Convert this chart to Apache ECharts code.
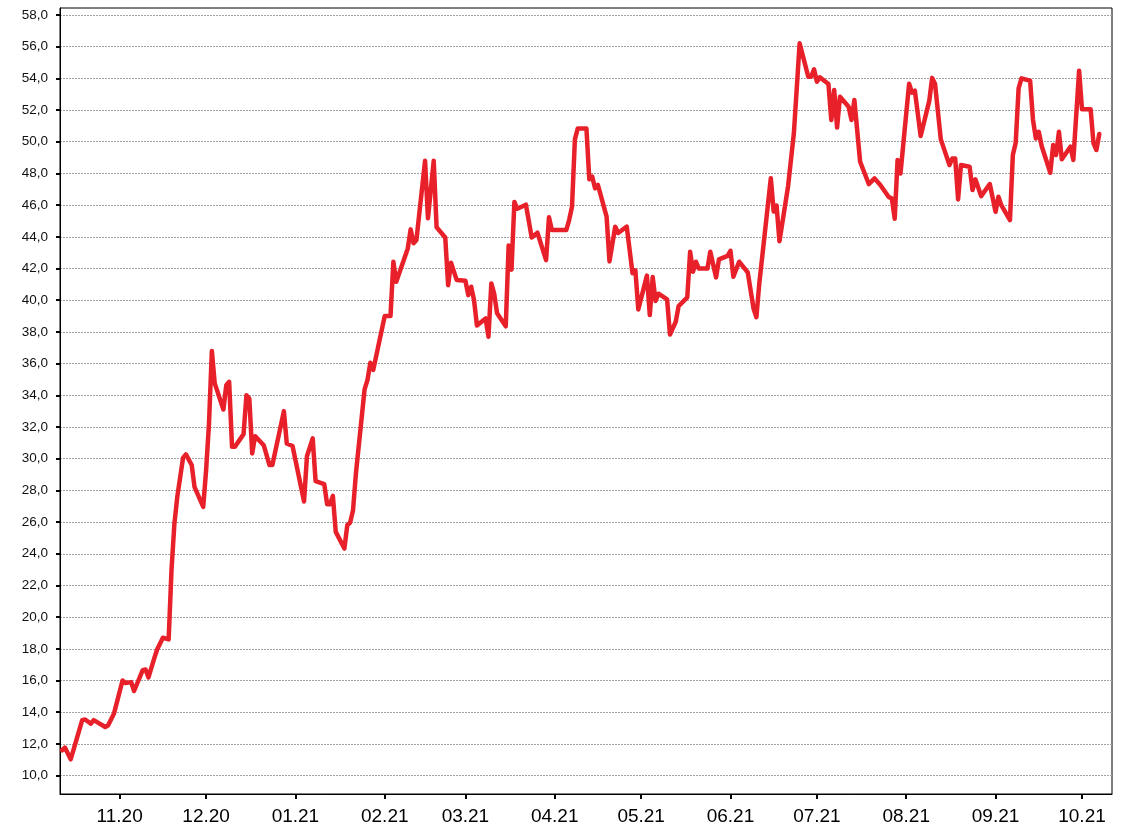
<!DOCTYPE html>
<html>
<head>
<meta charset="utf-8">
<script src="https://cdn.jsdelivr.net/npm/echarts@6/dist/echarts.min.js"></script>
<style>
html,body{margin:0;padding:0;background:#fff;}
#chart{width:1128px;height:836px;}
</style>
</head>
<body>
<div id="chart"></div>
<script>
var dates = [
'2020-10-12','2020-10-13','2020-10-15','2020-10-19','2020-10-20','2020-10-22','2020-10-23','2020-10-27','2020-10-28','2020-10-30',
'2020-11-02','2020-11-03','2020-11-05','2020-11-06','2020-11-09','2020-11-10','2020-11-11','2020-11-13','2020-11-14','2020-11-16',
'2020-11-18','2020-11-19','2020-11-20','2020-11-21','2020-11-23','2020-11-24','2020-11-26','2020-11-27','2020-11-30',
'2020-12-01','2020-12-02','2020-12-03','2020-12-04','2020-12-07','2020-12-08','2020-12-09','2020-12-10','2020-12-11','2020-12-14',
'2020-12-15','2020-12-16','2020-12-17','2020-12-18','2020-12-21','2020-12-23','2020-12-24','2020-12-28','2020-12-29','2020-12-31',
'2021-01-04','2021-01-05','2021-01-07','2021-01-08','2021-01-11','2021-01-12','2021-01-13','2021-01-14','2021-01-15','2021-01-18',
'2021-01-19','2021-01-20','2021-01-21','2021-01-22','2021-01-25','2021-01-26','2021-01-27','2021-01-28',
'2021-02-01','2021-02-03','2021-02-04','2021-02-05','2021-02-09','2021-02-10','2021-02-11','2021-02-12','2021-02-15','2021-02-16',
'2021-02-18','2021-02-19','2021-02-22','2021-02-23','2021-02-24','2021-02-26',
'2021-03-01','2021-03-02','2021-03-03','2021-03-04','2021-03-05','2021-03-08','2021-03-09','2021-03-10','2021-03-11','2021-03-12',
'2021-03-15','2021-03-16','2021-03-17','2021-03-18','2021-03-19','2021-03-22','2021-03-24','2021-03-26','2021-03-29','2021-03-30','2021-03-31',
'2021-04-05','2021-04-06','2021-04-07','2021-04-08','2021-04-09','2021-04-12','2021-04-13','2021-04-14','2021-04-15','2021-04-16',
'2021-04-19','2021-04-20','2021-04-22','2021-04-23','2021-04-26','2021-04-28','2021-04-29','2021-04-30',
'2021-05-03','2021-05-04','2021-05-05','2021-05-06','2021-05-07','2021-05-10','2021-05-11','2021-05-13','2021-05-14','2021-05-17',
'2021-05-18','2021-05-19','2021-05-20','2021-05-21','2021-05-24','2021-05-25','2021-05-27','2021-05-28','2021-05-31',
'2021-06-01','2021-06-02','2021-06-04','2021-06-07','2021-06-09','2021-06-10','2021-06-11','2021-06-15','2021-06-16','2021-06-17',
'2021-06-18','2021-06-21','2021-06-23','2021-06-25','2021-06-28','2021-06-29','2021-06-30',
'2021-07-01','2021-07-02','2021-07-05','2021-07-06','2021-07-07','2021-07-08','2021-07-09','2021-07-12','2021-07-13','2021-07-14',
'2021-07-16','2021-07-19','2021-07-21','2021-07-23','2021-07-26','2021-07-27','2021-07-28','2021-07-29','2021-07-30',
'2021-08-02','2021-08-03','2021-08-04','2021-08-06','2021-08-09','2021-08-10','2021-08-11','2021-08-13','2021-08-16','2021-08-17',
'2021-08-18','2021-08-19','2021-08-20','2021-08-23','2021-08-24','2021-08-25','2021-08-27','2021-08-30',
'2021-09-01','2021-09-02','2021-09-03','2021-09-06','2021-09-07','2021-09-08','2021-09-09','2021-09-10','2021-09-13','2021-09-14',
'2021-09-15','2021-09-16','2021-09-17','2021-09-20','2021-09-21','2021-09-22','2021-09-23','2021-09-24','2021-09-27','2021-09-28','2021-09-30',
'2021-10-01','2021-10-04','2021-10-05','2021-10-06','2021-10-07'
];
var prices = [
11.6,11.77,11.03,13.5,13.54,13.28,13.5,13.07,13.18,13.9,
16.0,15.85,15.9,15.34,16.65,16.7,16.2,17.4,17.96,18.7,
18.6,23.0,25.9,27.6,30.05,30.27,29.6,28.2,26.96,
29.27,32.2,36.8,34.75,33.1,34.64,34.85,30.75,30.75,31.55,
34.0,33.8,30.33,31.42,30.85,29.6,29.6,33.0,30.96,30.8,
27.3,30.15,31.28,28.58,28.4,27.13,27.13,27.65,25.38,24.33,
25.8,25.97,26.75,29.07,34.37,34.96,36.05,35.6,
39.0,39.0,42.43,41.16,43.27,44.47,43.59,43.8,48.8,45.17,
48.8,44.6,43.96,40.95,42.36,41.27,
41.23,40.32,40.85,40.0,38.4,38.85,37.7,41.06,40.4,39.17,
38.35,43.45,41.93,46.2,45.77,46.03,43.96,44.26,42.53,45.23,44.43,
44.43,45.06,45.9,50.15,50.84,50.84,47.63,47.8,47.06,47.27,
45.27,42.45,44.64,44.24,44.64,41.7,41.88,39.42,
41.55,39.06,41.46,39.95,40.41,40.05,37.83,38.64,39.63,40.18,
43.06,41.8,42.43,42.0,42.0,43.06,41.44,42.58,42.8,
43.12,41.48,42.43,41.75,39.48,38.93,41.06,47.7,45.6,45.97,
43.72,47.2,50.53,56.21,54.1,54.1,54.57,
53.79,54.07,53.64,51.37,53.26,50.9,52.84,52.21,51.37,52.63,
48.74,47.33,47.69,47.27,46.5,46.43,45.14,48.85,48.0,
53.66,53.1,53.22,50.36,52.58,54.03,53.64,50.15,48.53,48.95,
48.95,46.36,48.53,48.42,46.95,47.63,46.57,47.33,
45.58,46.53,46.0,45.06,49.16,49.94,53.37,54.0,53.85,51.37,
50.21,50.63,49.73,48.04,49.79,49.16,50.63,48.89,49.69,48.85,54.48,
52.05,52.05,49.9,49.48,50.49
];
var monthTicks = [
'2020-11-01','2020-12-01','2021-01-01','2021-02-01','2021-03-01','2021-04-01',
'2021-05-01','2021-06-01','2021-07-01','2021-08-01','2021-09-01','2021-10-01'
];
var yTicks = [10,12,14,16,18,20,22,24,26,28,30,32,34,36,38,40,42,44,46,48,50,52,54,56,58];

function ts(s){var p=s.split('-');return new Date(+p[0],+p[1]-1,+p[2]).getTime();}
var tickVals = monthTicks.map(ts);
var xMin = new Date(2020,9,11,7).getTime();
var xMax = new Date(2021,9,11,10).getTime();
var data = dates.map(function(d,i){return [ts(d), prices[i]];});

var chart = echarts.init(document.getElementById('chart'));
chart.setOption({
  animation:false,
  backgroundColor:'#fff',
  grid:{left:60,right:16,top:8,bottom:42,show:true,borderColor:'#000',borderWidth:1,containLabel:false},
  xAxis:{
    type:'value',min:xMin,max:xMax,scale:true,
    axisLine:{show:true,lineStyle:{color:'#000',width:1}},
    axisTick:{show:true,length:5,lineStyle:{color:'#000',width:2},customValues:tickVals},
    axisLabel:{
      customValues:tickVals,
      color:'#000',fontSize:19,fontFamily:'Liberation Sans, Arial, sans-serif',margin:13,
      formatter:function(v){var d=new Date(v);var m=d.getMonth()+1;return (m<10?'0':'')+m+'.'+String(d.getFullYear()).slice(2);}
    },
    splitLine:{show:false},minorTick:{show:false}
  },
  yAxis:{
    type:'value',min:8.84,max:58.44,
    axisLine:{show:true,lineStyle:{color:'#000',width:1}},
    axisTick:{show:true,length:4,lineStyle:{color:'#000',width:2},customValues:yTicks},
    axisLabel:{
      customValues:yTicks,
      color:'#111',fontSize:13.5,fontFamily:'Liberation Sans, Arial, sans-serif',margin:12,
      formatter:function(v){return v.toFixed(1).replace('.',',');}
    },
    splitLine:{show:true,lineStyle:{color:'#a3a3a3',width:1,type:[2,1]}}
  },
  series:[{
    type:'line',data:data,showSymbol:false,smooth:false,
    lineStyle:{color:'#e8202a',width:4.5,join:'round',cap:'round'},
    itemStyle:{color:'#e8202a'}
  }]
});
</script>
</body>
</html>
